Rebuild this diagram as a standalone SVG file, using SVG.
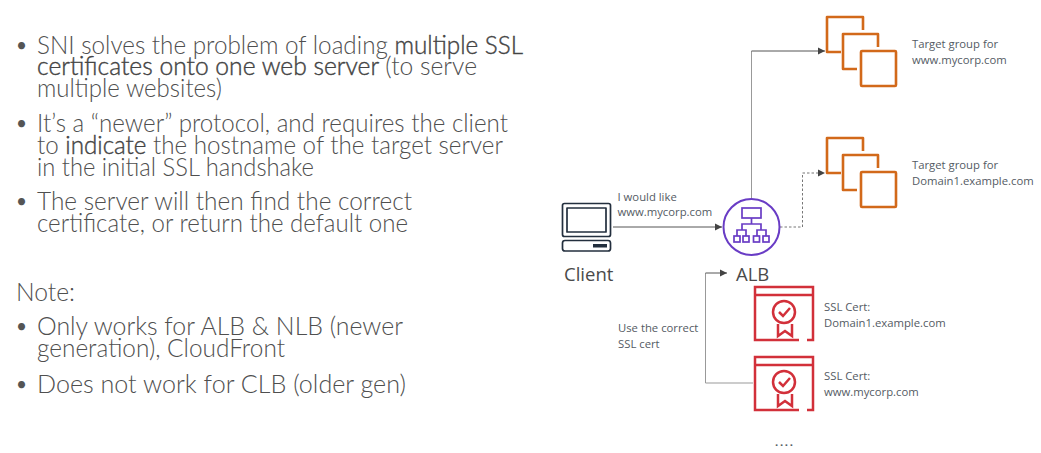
<svg xmlns="http://www.w3.org/2000/svg" width="1041" height="453" viewBox="0 0 1041 453">
<style>
.b{font-family:"Lato","Liberation Sans",sans-serif;font-size:25px;font-weight:300;fill:#4f4f4f}
.d{font-family:"Lato","Liberation Sans",sans-serif;font-size:19px;font-weight:400;fill:#555}
.s{font-weight:300;fill:#444;stroke:#444;stroke-width:.4}
.l{font-family:"Open Sans","Liberation Sans",sans-serif;font-size:11.3px;fill:#545b64}
.n{font-family:"Open Sans","Liberation Sans",sans-serif;font-size:18.5px;fill:#4a4a4a}
.tg{fill:none;stroke:#d2691a;stroke-width:2.6;stroke-linejoin:round}
.ce{fill:none;stroke:#d2303a;stroke-width:2.5}
.al{fill:none;stroke:#693cc5;stroke-width:1.7}
.c{fill:none;stroke:#232f3e;stroke-width:1.7;stroke-linejoin:round}
.k{fill:none;stroke:#555;stroke-width:1}
.g{fill:none;stroke:#999;stroke-width:1}
.h{fill:none;stroke:#777;stroke-width:1;stroke-dasharray:2.5 2}
</style>
<defs>
<marker id="a" markerUnits="userSpaceOnUse" markerWidth="8" markerHeight="8" refX="7" refY="4" orient="auto"><path d="M0,0.5 L7,4 L0,7.5 Z" fill="#444"/></marker>
<g id="tgicon"><path class="tg" d="M863,30 V17 H827 V52 H841"/><path class="tg" d="M878,47 V34 H843 V69 H857"/><rect class="tg" x="861" y="51" width="35" height="35" rx="1"/></g>
<g id="cert"><path class="ce" d="M799,340 H755 V287 H813 V340 H807 M755,295 H813"/><circle class="ce" cx="784" cy="312" r="11"/><path class="ce" d="M779,312 L783,316 L790,308"/><path class="ce" d="M778,324 V336 L785,331 L792,336 V324"/></g>
</defs>
<g id="text">
<text class="d" x="16" y="52">•</text><text class="b" x="37" y="54" textLength="486" lengthAdjust="spacingAndGlyphs">SNI solves the problem of loading <tspan class="s">multiple SSL</tspan></text>
<text class="b" x="37" y="75" textLength="440" lengthAdjust="spacingAndGlyphs"><tspan class="s">certificates onto one web server</tspan> (to serve</text>
<text class="b" x="37" y="97" textLength="185" lengthAdjust="spacingAndGlyphs">multiple websites)</text>
<text class="d" x="16" y="130">•</text><text class="b" x="37" y="132" textLength="471" lengthAdjust="spacingAndGlyphs">It’s a “newer” protocol, and requires the client</text>
<text class="b" x="37" y="154" textLength="466" lengthAdjust="spacingAndGlyphs">to <tspan class="s">indicate</tspan> the hostname of the target server</text>
<text class="b" x="37" y="176" textLength="277" lengthAdjust="spacingAndGlyphs">in the initial SSL handshake</text>
<text class="d" x="16" y="208">•</text><text class="b" x="37" y="210" textLength="375" lengthAdjust="spacingAndGlyphs">The server will then find the correct</text>
<text class="b" x="37" y="232" textLength="371" lengthAdjust="spacingAndGlyphs">certificate, or return the default one</text>
<text class="b" x="16" y="301" textLength="59" lengthAdjust="spacingAndGlyphs">Note:</text>
<text class="d" x="16" y="333">•</text><text class="b" x="37" y="335" textLength="366" lengthAdjust="spacingAndGlyphs">Only works for ALB &amp; NLB (newer</text>
<text class="b" x="37" y="357" textLength="248" lengthAdjust="spacingAndGlyphs">generation), CloudFront</text>
<text class="d" x="16" y="391">•</text><text class="b" x="37" y="393" textLength="369" lengthAdjust="spacingAndGlyphs">Does not work for CLB (older gen)</text>
</g>
<g id="connectors">
<path class="g" d="M751.5,199 V51"/><path class="k" d="M751.5,51 H825" marker-end="url(#a)"/>
<path class="h" d="M780,227 H802.5 V173 H825" marker-end="url(#a)"/>
<path class="k" d="M613,227 H722" marker-end="url(#a)"/>
<path class="g" d="M753,383 H705.5 V273"/><path class="k" d="M705.5,273 H727" marker-end="url(#a)"/>
</g>
<g id="tg1"><use href="#tgicon"/><text class="l" x="912" y="48">Target group for</text><text class="l" x="912" y="64">www.mycorp.com</text></g>
<g id="tg2"><use href="#tgicon" y="121"/><text class="l" x="912" y="169">Target group for</text><text class="l" x="912" y="185">Domain1.example.com</text></g>
<g id="client">
<rect class="c" x="562.5" y="203.5" width="48" height="33" rx="2"/><rect class="c" x="567" y="208" width="39" height="24"/>
<rect class="c" x="562.5" y="240.5" width="48" height="10.5" rx="2.5"/><rect x="593" y="244" width="14" height="3.5" fill="#232f3e"/>
<text class="n" x="564" y="281">Client</text>
</g>
<g id="label1"><text class="l" x="617.5" y="201">I would like</text><text class="l" x="617.5" y="216">www.mycorp.com</text></g>
<g id="alb">
<circle cx="751.5" cy="227" r="28" fill="none" stroke="#693cc5" stroke-width="2"/>
<rect class="al" x="742" y="208" width="19" height="10"/>
<path class="al" d="M751.5,218 V224 M742,230 V224 H761 V230 M737,236 V230 H746 V236 M757,236 V230 H766 V236"/>
<rect class="al" x="734" y="236" width="6" height="6"/><rect class="al" x="743" y="236" width="6" height="6"/><rect class="al" x="753.5" y="236" width="6" height="6"/><rect class="al" x="763" y="236" width="6" height="6"/>
<text class="n" x="736" y="281">ALB</text>
</g>
<g id="label2"><text class="l" x="618" y="332">Use the correct</text><text class="l" x="618" y="348">SSL cert</text></g>
<g id="cert1"><use href="#cert"/><text class="l" x="824" y="311">SSL Cert:</text><text class="l" x="824" y="327">Domain1.example.com</text></g>
<g id="cert2"><use href="#cert" y="70"/><text class="l" x="824" y="380">SSL Cert:</text><text class="l" x="824" y="396">www.mycorp.com</text></g>
<g id="more"><text class="l" x="775" y="446" font-weight="700" textLength="18">....</text></g>
</svg>
